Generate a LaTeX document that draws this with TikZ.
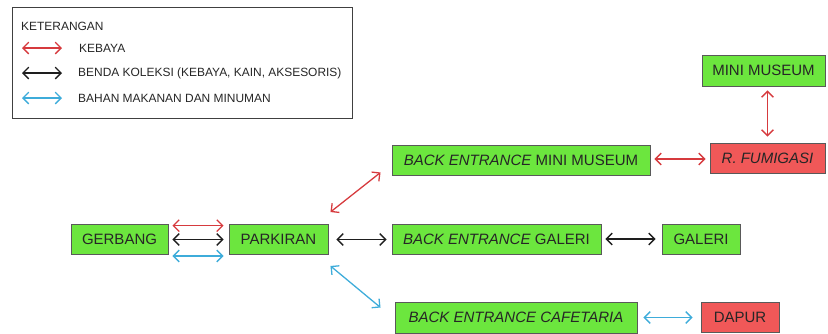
\documentclass[tikz,border=0pt]{standalone}
\usepackage{fontspec}
\setmainfont{Liberation Sans}
\usetikzlibrary{arrows.meta}

\definecolor{boxgreen}{RGB}{108,230,62}
\definecolor{boxred}{RGB}{240,88,88}
\definecolor{linered}{RGB}{214,58,62}
\definecolor{lineblue}{RGB}{62,172,218}
\definecolor{lineblack}{RGB}{30,30,30}

\tikzset{
  box/.style={draw=black!65, line width=0.8pt, minimum height=0.9cm, inner sep=0pt,
    text=black!85, font=\fontsize{12.8}{16}\selectfont},
  greenbox/.style={box, fill=boxgreen},
  redbox/.style={box, fill=boxred},
  link/.style={line width=1.1pt, {Straight Barb[length=5pt,width=10pt]}-{Straight Barb[length=5pt,width=10pt]}},
  legtext/.style={anchor=west, inner sep=0pt, text=black!85, font=\fontsize{10.2}{12}\selectfont}
}

\begin{document}
\begin{tikzpicture}[x=0.03cm, y=-0.03cm]
   \useasboundingbox (0,0) rectangle (828,334);
   % legend
   \draw[color=black!75, line width=0.8pt] (12,7) rectangle (352,118);
   \node[legtext] at (21,26) {KETERANGAN};
   \draw[link, linered] (22,48) -- (62,48);
   \node[legtext] at (79,48) {KEBAYA};
   \draw[link, lineblack] (22,73) -- (62,73);
   \node[legtext] at (78,73) {BENDA KOLEKSI (KEBAYA, KAIN, AKSESORIS)};
   \draw[link, lineblue] (22,98) -- (62,98);
   \node[legtext] at (78,98) {BAHAN MAKANAN DAN MINUMAN};
   % rooms
   \node[greenbox, minimum width=2.91cm] (gerbang) at (119.5,239.5) {GERBANG};
   \node[greenbox, minimum width=2.97cm] (parkiran) at (278.5,239.5) {PARKIRAN};
   \node[greenbox, minimum width=7.74cm] (bemuseum) at (521,160) {\textit{BACK ENTRANCE} MINI MUSEUM};
   \node[redbox, minimum width=3.45cm] (fumigasi) at (767.5,158) {\textit{R. FUMIGASI}};
   \node[greenbox, minimum width=3.69cm, minimum height=0.93cm] (museum) at (763.5,70.5) {MINI MUSEUM};
   \node[greenbox, minimum width=6.27cm] (begaleri) at (496.5,239) {\textit{BACK ENTRANCE} GALERI};
   \node[greenbox, minimum width=2.34cm] (galeri) at (701,239) {GALERI};
   \node[greenbox, minimum width=7.26cm, minimum height=0.93cm] (becafe) at (516,317.5) {\textit{BACK ENTRANCE CAFETARIA}};
   \node[redbox, minimum width=2.34cm] (dapur) at (740,317) {DAPUR};
   % flows
   \draw[link, linered, shorten <=0.12cm, shorten >=0.15cm] ([yshift=-0.05cm]gerbang.north east) -- ([yshift=-0.05cm]parkiran.north west);
   \draw[link, lineblack, shorten <=0.12cm, shorten >=0.15cm] (gerbang) -- (parkiran);
   \draw[link, lineblue, shorten <=0.12cm, shorten >=0.15cm] ([yshift=-0.03cm]gerbang.south east) -- ([yshift=-0.03cm]parkiran.south west);
   \draw[link, linered] ([shift={(2,-12)}]parkiran.north east) -- ([shift={(-11,-3)}]bemuseum.south west);
   \draw[link, lineblue] ([shift={(2,11)}]parkiran.south east) -- ([shift={(-14,6)}]becafe.north west);
   \draw[link, lineblack, shorten <=0.24cm, shorten >=0.15cm] (parkiran.east) -- (parkiran.east -| begaleri.west);
   \draw[link, lineblack, shorten <=0.12cm, shorten >=0.18cm] (begaleri) -- (galeri);
   \draw[link, linered, shorten <=0.12cm, shorten >=0.12cm] ([yshift=0.03cm]bemuseum.east) -- ([yshift=0.03cm]bemuseum.east -| fumigasi.west);
   \draw[link, linered, shorten <=0.18cm, shorten >=0.12cm] (fumigasi.north) -- (fumigasi.north |- museum.south);
   \draw[link, lineblue, shorten <=0.18cm, shorten >=0.24cm] (becafe.east) -- (becafe.east -| dapur.west);
\end{tikzpicture}
\end{document}
